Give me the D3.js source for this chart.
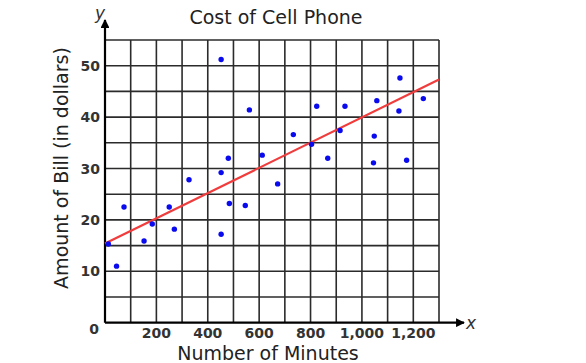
<!DOCTYPE html>
<html>
<head>
<meta charset="utf-8">
<script src="https://cdn.jsdelivr.net/npm/d3@7"></script>
<style>
  body { margin: 0; background: #fff; }
  text { font-family: "DejaVu Sans", Verdana, sans-serif; }
</style>
</head>
<body>
<div class="chart"></div>
<script>
var w = 586;
var h = 363;

// minutes used vs. bill amount
var minutes = [13, 45, 74, 152, 184, 250, 270, 327, 452, 452, 484, 546, 480, 452, 562,
  612, 672, 733, 804, 824, 867, 915, 934, 1045, 1048, 1058, 1144, 1148, 1174, 1239];
var bill = [15.3, 11.0, 22.5, 15.9, 19.2, 22.5, 18.2, 27.8, 29.2, 17.2, 23.2, 22.8, 32.0, 51.2, 41.4,
  32.6, 27.0, 36.6, 34.7, 42.1, 32.0, 37.4, 42.1, 31.1, 36.3, 43.2, 41.2, 47.6, 31.6, 43.6];

// trend line end points
var trendX = [0, 1300];
var trendY = [15.4, 47.3];

var xTicks = [200, 400, 600, 800, 1000, 1200];
var xTickLabels = ["200", "400", "600", "800", "1,000", "1,200"];
var yTicks = [10, 20, 30, 40, 50];

var x = d3.scaleLinear().domain([0, 1300]).range([105, 439]);
var y = d3.scaleLinear().domain([0, 55]).range([322.7, 40]);

var svg = d3.select(".chart")
  .append("svg")
  .attr("width", w)
  .attr("height", h);

svg.append("defs").append("marker")
  .attr("id", "arrow")
  .attr("viewBox", "0 0 10 10")
  .attr("refX", 9).attr("refY", 5)
  .attr("markerWidth", 4).attr("markerHeight", 4)
  .attr("orient", "auto")
  .append("path")
  .attr("d", "M0,0L10,5L0,10z")
  .attr("fill", "#000");

// grid lines
svg.append("g")
  .selectAll("line")
  .data(d3.range(100, 1301, 100))
  .enter()
  .append("line")
  .attr("x1", function (d) { return x(d); })
  .attr("x2", function (d) { return x(d); })
  .attr("y1", y(0))
  .attr("y2", y(55))
  .attr("stroke", "#2b2b2b")
  .attr("stroke-width", 1.6);

svg.append("g")
  .selectAll("line")
  .data(d3.range(5, 56, 5))
  .enter()
  .append("line")
  .attr("x1", x(0))
  .attr("x2", x(1300))
  .attr("y1", function (d) { return y(d); })
  .attr("y2", function (d) { return y(d); })
  .attr("stroke", "#2b2b2b")
  .attr("stroke-width", 1.6);

// axes with arrows
svg.append("line")
  .attr("x1", x(0)).attr("y1", y(0))
  .attr("x2", x(0)).attr("y2", 20)
  .attr("stroke", "#000").attr("stroke-width", 2.2)
  .attr("marker-end", "url(#arrow)");

svg.append("line")
  .attr("x1", x(0)).attr("y1", y(0))
  .attr("x2", 464).attr("y2", y(0))
  .attr("stroke", "#000").attr("stroke-width", 2.2)
  .attr("marker-end", "url(#arrow)");

svg.append("text")
  .attr("x", 95).attr("y", 19)
  .attr("font-size", 17).attr("font-style", "italic")
  .attr("fill", "#333")
  .text("y");

svg.append("text")
  .attr("x", 466).attr("y", 329)
  .attr("font-size", 17).attr("font-style", "italic")
  .attr("fill", "#333")
  .text("x");

// tick labels
svg.append("g")
  .selectAll("text")
  .data(xTicks)
  .enter()
  .append("text")
  .attr("x", function (d) { return x(d); })
  .attr("y", 338)
  .attr("text-anchor", "middle")
  .attr("font-size", 14).attr("font-weight", "bold")
  .attr("fill", "#333")
  .text(function (d, i) { return xTickLabels[i]; });

svg.append("g")
  .selectAll("text")
  .data(yTicks)
  .enter()
  .append("text")
  .attr("x", 100)
  .attr("y", function (d) { return y(d) + 5; })
  .attr("text-anchor", "end")
  .attr("font-size", 14).attr("font-weight", "bold")
  .attr("fill", "#333")
  .text(function (d) { return d; });

svg.append("text")
  .attr("x", 94).attr("y", 334)
  .attr("text-anchor", "middle")
  .attr("font-size", 14).attr("font-weight", "bold")
  .attr("fill", "#333")
  .text("0");

// trend line
svg.append("line")
  .attr("x1", x(trendX[0])).attr("y1", y(trendY[0]))
  .attr("x2", x(trendX[1])).attr("y2", y(trendY[1]))
  .attr("stroke", "#f03c3c")
  .attr("stroke-width", 2.2);

// points
svg.append("g")
  .selectAll("circle")
  .data(minutes)
  .enter()
  .append("circle")
  .attr("cx", function (d) { return x(d); })
  .attr("cy", function (d, i) { return y(bill[i]); })
  .attr("r", 2.7)
  .attr("fill", "#0a0aee");

// titles
svg.append("text")
  .attr("x", 276).attr("y", 24)
  .attr("text-anchor", "middle")
  .attr("font-size", 19)
  .attr("fill", "#222")
  .text("Cost of Cell Phone");

svg.append("text")
  .attr("x", 268).attr("y", 360)
  .attr("text-anchor", "middle")
  .attr("font-size", 19)
  .attr("fill", "#222")
  .text("Number of Minutes");

svg.append("text")
  .attr("transform", "translate(68,168) rotate(-90)")
  .attr("text-anchor", "middle")
  .attr("font-size", 19)
  .attr("fill", "#222")
  .text("Amount of Bill (in dollars)");
</script>
</body>
</html>
